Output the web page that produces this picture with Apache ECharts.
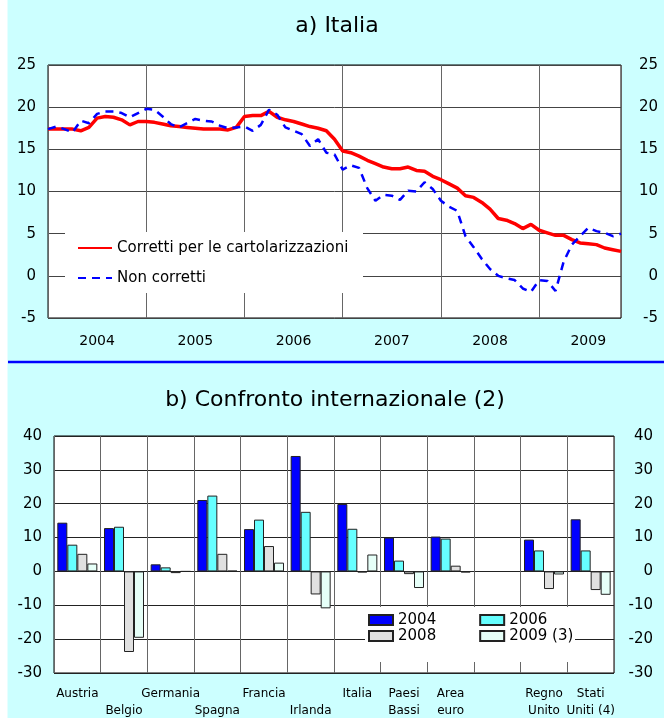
<!DOCTYPE html>
<html>
<head>
<meta charset="utf-8">
<script src="https://cdn.jsdelivr.net/npm/echarts@6/dist/echarts.min.js"></script>
<style>
html,body{margin:0;padding:0;background:#fff;}
#main{width:664px;height:718px;}
</style>
</head>
<body>
<div id="main"></div>
<script>
// ---------- Panel a) Italia : monthly, Jan 2004 .. Nov 2009 ----------
const years = ['2004', '2005', '2006', '2007', '2008', '2009'];
const corretti = [
  17.4, 17.4, 17.4, 17.4, 17.2, 17.6, 18.7, 18.9, 18.8, 18.5, 17.9, 18.3,
  18.3, 18.2, 18.0, 17.8, 17.7, 17.6, 17.5, 17.4, 17.4, 17.4, 17.3, 17.6,
  18.9, 19.0, 19.0, 19.5, 18.8, 18.5, 18.3, 18.0, 17.7, 17.5, 17.2, 16.2,
  14.8, 14.6, 14.2, 13.7, 13.3, 12.9, 12.7, 12.7, 12.9, 12.5, 12.4, 11.8,
  11.4, 10.9, 10.4, 9.5, 9.3, 8.7, 7.9, 6.8, 6.6, 6.2, 5.6, 6.1,
  5.4, 5.1, 4.8, 4.8, 4.3, 3.9, 3.8, 3.7, 3.3, 3.1, 2.9
];
const nonCorretti = [
  17.4, 17.7, 17.4, 17.0, 18.4, 18.1, 19.2, 19.5, 19.5, 19.3, 18.8, 19.3,
  19.8, 19.7, 18.9, 18.0, 17.6, 18.1, 18.6, 18.4, 18.3, 17.8, 17.5, 17.6,
  17.7, 17.2, 17.9, 19.7, 19.1, 17.6, 17.2, 16.8, 15.4, 16.2, 14.6, 14.4,
  12.6, 13.1, 12.8, 10.4, 8.9, 9.6, 9.5, 9.0, 10.1, 10.0, 11.1, 10.3,
  8.9, 8.2, 7.7, 4.7, 3.4, 2.0, 0.8, 0.0, -0.3, -0.5, -1.5, -1.9,
  -0.5, -0.6, -1.8, 1.7, 3.7, 4.7, 5.7, 5.3, 5.1, 4.7, 5.0
];
const seriesNamesA = ['Corretti per le cartolarizzazioni', 'Non corretti'];

// ---------- Panel b) Confronto internazionale ----------
const countries = ['Austria', 'Belgio', 'Germania', 'Spagna', 'Francia', 'Irlanda',
  'Italia', 'Paesi Bassi', 'Area euro', '', 'Regno Unito', 'Stati Uniti (4)'];
const v2004 = [14.4, 12.8, 2.1, 21.1, 12.5, 34.1, 19.9, 10.0, 10.3, null, 9.4, 15.4];
const v2006 = [7.9, 13.2, 1.2, 22.4, 15.3, 17.6, 12.6, 3.2, 9.7, null, 6.2, 6.2];
const v2008 = [5.2, -23.8, -0.5, 5.2, 7.5, -6.8, -0.3, -0.8, 1.7, null, -5.2, -5.5];
const v2009 = [2.35, -19.6, 0, 0.2, 2.6, -10.9, 5.0, -4.9, -0.3, null, -0.9, -6.9];
const seriesNamesB = ['2004', '2006', '2008', '2009 (3)'];

const FONT = 'DejaVu Sans';
const chart = echarts.init(document.getElementById('main'), null, {renderer: 'canvas'});

const axisNum = {color: '#000', fontFamily: FONT, fontSize: 15};

function countryLabel(name, idx) {
  if (!name) return '';
  if (idx < 6) return (idx % 2 === 1) ? '\n' + name : name;
  const k = name.indexOf(' ');
  return k < 0 ? name : name.slice(0, k) + '\n' + name.slice(k + 1);
}

const option = {
  backgroundColor: '#ccffff',
  animation: false,
  textStyle: {fontFamily: FONT},
  grid: [
    {left: 48, top: 65, width: 573, height: 253, show: true, backgroundColor: '#fff',
     borderColor: '#000', borderWidth: 1, containLabel: false, outerBoundsMode: 'none'},
    {left: 54, top: 436, width: 560, height: 237, show: true, backgroundColor: '#fff',
     borderColor: '#000', borderWidth: 1, containLabel: false, outerBoundsMode: 'none'}
  ],
  xAxis: [
    {gridIndex: 0, type: 'value', min: 0, max: 70, interval: 12,
     axisLine: {show: false}, axisTick: {show: false}, axisLabel: {show: false},
     splitLine: {show: true, lineStyle: {color: '#666', width: 1}}},
    {gridIndex: 0, type: 'value', min: 0, max: 70, interval: 6, position: 'bottom',
     axisLine: {show: false}, axisTick: {show: false}, splitLine: {show: false},
     axisLabel: {color: '#000', fontFamily: FONT, fontSize: 14, margin: 16,
       formatter: function (v) { return (v % 12 === 6) ? years[(v - 6) / 12] : ''; }}},
    {gridIndex: 1, type: 'category', data: countries, boundaryGap: true,
     axisLine: {show: false}, axisTick: {show: false},
     splitLine: {show: true, interval: 0, lineStyle: {color: '#666', width: 1}},
     axisLabel: {interval: 0, color: '#000', fontFamily: FONT, fontSize: 12, lineHeight: 17, margin: 12,
       formatter: function (v, i) { return countryLabel(v, i); }}}
  ],
  yAxis: [
    {gridIndex: 0, type: 'value', min: -5, max: 25, interval: 5,
     axisLine: {show: false}, axisTick: {show: false},
     splitLine: {show: true, lineStyle: {color: '#444', width: 1}},
     axisLabel: Object.assign({margin: 12}, axisNum)},
    {gridIndex: 0, type: 'value', min: -5, max: 25, interval: 5, position: 'right',
     axisLine: {show: false}, axisTick: {show: false}, splitLine: {show: false},
     axisLabel: Object.assign({margin: 37, align: 'right'}, axisNum)},
    {gridIndex: 1, type: 'value', min: -30, max: 40, interval: 10,
     axisLine: {show: false}, axisTick: {show: false},
     splitLine: {show: true, lineStyle: {color: '#222', width: 1}},
     axisLabel: Object.assign({margin: 12}, axisNum)},
    {gridIndex: 1, type: 'value', min: -30, max: 40, interval: 10, position: 'right',
     axisLine: {show: false}, axisTick: {show: false}, splitLine: {show: false},
     axisLabel: Object.assign({margin: 39, align: 'right'}, axisNum)}
  ],
  legend: [
    {data: seriesNamesA, orient: 'vertical', left: 77, top: 240, itemWidth: 34, itemHeight: 16,
     itemGap: 14, backgroundColor: 'transparent', padding: 0, selectedMode: false,
     itemStyle: {color: 'rgba(0,0,0,0)', borderColor: 'rgba(0,0,0,0)', borderWidth: 0, opacity: 0},
     textStyle: {color: '#000', fontFamily: FONT, fontSize: 15, lineHeight: 16}},
    {data: ['2004', '2006'], orient: 'horizontal', left: 368, top: 612, itemWidth: 24, itemHeight: 10,
     itemGap: 43, icon: 'rect', padding: 0, selectedMode: false,
     textStyle: {color: '#000', fontFamily: FONT, fontSize: 15, lineHeight: 16}},
    {data: ['2008', '2009 (3)'], orient: 'horizontal', left: 368, top: 628, itemWidth: 24, itemHeight: 10,
     itemGap: 43, icon: 'rect', padding: 0, selectedMode: false,
     textStyle: {color: '#000', fontFamily: FONT, fontSize: 15, lineHeight: 16}}
  ],
  graphic: [
    {type: 'rect', shape: {x: 0, y: 0, width: 7.5, height: 718}, style: {fill: '#fff'}, z: 10, silent: true},
    {type: 'line', shape: {x1: 8, y1: 362, x2: 664, y2: 362}, style: {stroke: '#0000ff', lineWidth: 2.5}, z: 10, silent: true},
    {type: 'rect', shape: {x: 65, y: 232, width: 298, height: 61}, style: {fill: '#fff'}, z: 3, silent: true},
    {type: 'rect', shape: {x: 365, y: 607, width: 210, height: 55}, style: {fill: '#fff'}, z: 3, silent: true},
    {type: 'text', x: 337, y: 26, z: 10, silent: true,
     style: {text: 'a) Italia', fill: '#000', font: '22px "DejaVu Sans"', textAlign: 'center', textVerticalAlign: 'middle'}},
    {type: 'text', x: 335, y: 400, z: 10, silent: true,
     style: {text: 'b) Confronto internazionale (2)', fill: '#000', font: '22px "DejaVu Sans"', textAlign: 'center', textVerticalAlign: 'middle'}}
  ],
  series: [
    {name: seriesNamesA[0], type: 'line', xAxisIndex: 0, yAxisIndex: 0, symbol: 'none', showSymbol: false,
     data: corretti.map(function (v, i) { return [i, v]; }),
     lineStyle: {color: '#ff0000', width: 3.5}, itemStyle: {color: '#ff0000'}, z: 4},
    {name: seriesNamesA[1], type: 'line', xAxisIndex: 0, yAxisIndex: 0, symbol: 'none', showSymbol: false,
     data: nonCorretti.map(function (v, i) { return [i, v]; }),
     lineStyle: {color: '#0000ff', width: 2.5, type: [8, 6]}, itemStyle: {color: '#0000ff'}, z: 5},
    {name: seriesNamesB[0], type: 'bar', xAxisIndex: 2, yAxisIndex: 2, data: v2004, barWidth: 10, barGap: '0%',
     itemStyle: {color: '#0000ff', borderColor: '#222', borderWidth: 1}},
    {name: seriesNamesB[1], type: 'bar', xAxisIndex: 2, yAxisIndex: 2, data: v2006, barWidth: 10, barGap: '0%',
     itemStyle: {color: '#66ffff', borderColor: '#222', borderWidth: 1}},
    {name: seriesNamesB[2], type: 'bar', xAxisIndex: 2, yAxisIndex: 2, data: v2008, barWidth: 10, barGap: '0%',
     itemStyle: {color: '#e0e0e0', borderColor: '#222', borderWidth: 1}},
    {name: seriesNamesB[3], type: 'bar', xAxisIndex: 2, yAxisIndex: 2, data: v2009, barWidth: 10, barGap: '0%',
     itemStyle: {color: '#e6fff8', borderColor: '#222', borderWidth: 1}}
  ]
};
chart.setOption(option);
</script>
</body>
</html>
